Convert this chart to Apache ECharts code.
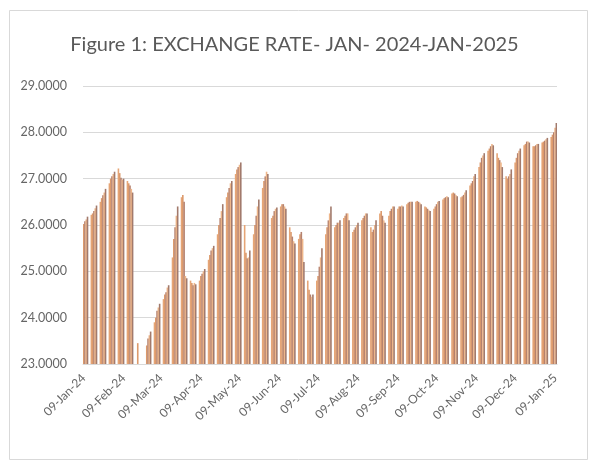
<!DOCTYPE html>
<html>
<head>
<meta charset="utf-8">
<script src="https://cdn.jsdelivr.net/npm/echarts@6/dist/echarts.min.js"></script>
<style>html,body{margin:0;padding:0;background:#fff}#c{width:589px;height:462px}</style>
</head>
<body>
<div id="c"></div>
<script>
const titleText = 'Figure 1: EXCHANGE RATE- JAN- 2024-JAN-2025';
const startDate = [2024, 0, 9];
const dayCount = 368;
const yTicks = [23, 24, 25, 26, 27, 28, 29];
const monthNames = ['Jan','Feb','Mar','Apr','May','Jun','Jul','Aug','Sep','Oct','Nov','Dec'];

// weekday exchange rates, one row per week (Mon-Fri); first row starts Tue 09-Jan-24
const rates = [
  [26.02, 26.08, 26.12, 26.18],
  [26.22, 26.25, 26.30, 26.36, 26.42],
  [26.50, 26.58, 26.64, 26.70, 26.78],
  [26.90, 27.00, 27.05, 27.10, 27.15],
  [27.22, 27.12, 27.02, 26.98, 27.00],
  [26.95, 26.90, 26.85, 26.78, 26.70],
  [null, 23.45, null, null, null],
  [null, 23.40, 23.55, 23.62, 23.70],
  [23.90, 24.00, 24.15, 24.22, 24.30],
  [24.40, 24.50, 24.55, 24.65, 24.70],
  [25.30, 25.70, 25.95, 26.20, 26.40],
  [26.60, 26.65, 26.50, 24.90, 24.85],
  [24.80, 24.75, 24.70, 24.75, 24.72],
  [24.80, 24.90, 24.95, 25.00, 25.05],
  [25.25, 25.35, 25.45, 25.50, 25.55],
  [25.80, 26.00, 26.15, 26.30, 26.45],
  [26.60, 26.70, 26.80, 26.90, 26.95],
  [27.10, 27.20, 27.25, 27.30, 27.35],
  [26.00, 25.40, 25.28, 25.30, 25.45],
  [25.80, 26.00, 26.20, 26.40, 26.55],
  [26.80, 26.95, 27.05, 27.15, 27.10],
  [26.15, 26.20, 26.30, 26.35, 26.38],
  [26.40, 26.45, 26.45, 26.40, 26.35],
  [25.95, 25.85, 25.75, 25.65, 25.60],
  [25.70, 25.80, 25.85, 25.70, 25.20],
  [24.80, 24.60, 24.50, 24.45, 24.50],
  [24.80, 24.90, 25.10, 25.30, 25.50],
  [25.80, 25.95, 26.10, 26.25, 26.40],
  [25.95, 26.00, 26.05, 26.05, 26.10],
  [26.15, 26.20, 26.25, 26.25, 26.10],
  [25.85, 25.90, 25.95, 26.00, 26.05],
  [26.10, 26.15, 26.20, 26.25, 26.25],
  [25.95, 25.85, 25.90, 26.00, 26.10],
  [26.25, 26.30, 26.20, 26.10, 26.05],
  [26.20, 26.30, 26.35, 26.40, 26.40],
  [26.35, 26.40, 26.40, 26.42, 26.40],
  [26.45, 26.48, 26.50, 26.50, 26.50],
  [26.50, 26.52, 26.50, 26.48, 26.45],
  [26.40, 26.38, 26.35, 26.32, 26.30],
  [26.35, 26.40, 26.45, 26.50, 26.52],
  [26.55, 26.58, 26.60, 26.62, 26.60],
  [26.68, 26.70, 26.68, 26.65, 26.62],
  [26.60, 26.62, 26.65, 26.70, 26.75],
  [26.85, 26.90, 26.95, 27.05, 27.10],
  [27.25, 27.35, 27.45, 27.50, 27.55],
  [27.60, 27.65, 27.70, 27.75, 27.72],
  [27.55, 27.45, 27.40, 27.35, 27.25],
  [27.05, 27.00, 27.05, 27.10, 27.20],
  [27.35, 27.45, 27.55, 27.60, 27.65],
  [27.72, 27.75, 27.80, 27.80, 27.78],
  [27.70, 27.70, 27.72, 27.75, 27.75],
  [27.78, 27.80, 27.82, 27.85, 27.88],
  [27.90, 27.95, 28.00, 28.10, 28.20]
];

const palette = ['#dc9a6c', '#b5826f', '#eeb68a', '#a27a6c', '#d38f68', '#c08f7e', '#e6a576'];

// build daily category axis (weekends left empty)
const flat = rates.flat();
const categories = [];
const values = [];
let k = 0;
for (let i = 0; i < dayCount; i++) {
  const d = new Date(Date.UTC(startDate[0], startDate[1], startDate[2] + i));
  const dd = String(d.getUTCDate()).padStart(2, '0');
  categories.push(dd + '-' + monthNames[d.getUTCMonth()] + '-' + String(d.getUTCFullYear()).slice(2));
  const dow = d.getUTCDay();
  if (dow === 0 || dow === 6) values.push(null);
  else values.push(flat[k++]);
}

const chart = echarts.init(document.getElementById('c'), null, {renderer: 'canvas'});
chart.setOption({
  animation: false,
  backgroundColor: '#ffffff',
  graphic: [{
    type: 'rect', left: 7, top: 8,
    shape: {width: 578, height: 449},
    style: {fill: 'none', stroke: '#d9d9d9', lineWidth: 1},
    silent: true, z: -1
  }],
  title: {
    text: titleText,
    left: 'center', top: 30,
    textStyle: {fontFamily: 'Lato', fontSize: 20, fontWeight: 'normal', color: '#595959'}
  },
  grid: {left: 83, right: 32, top: 86, bottom: 98, containLabel: false},
  xAxis: {
    type: 'category',
    data: categories,
    boundaryGap: true,
    axisLine: {show: true, lineStyle: {color: '#d9d9d9'}},
    axisTick: {show: false},
    axisLabel: {
      rotate: 45,
      interval: (i, v) => v.startsWith('09-'),
      color: '#666666', fontFamily: 'Lato', fontSize: 12, margin: 12
    }
  },
  yAxis: {
    type: 'value',
    min: yTicks[0], max: yTicks[yTicks.length - 1], interval: 1,
    axisLine: {show: false}, axisTick: {show: false},
    splitLine: {lineStyle: {color: '#d9d9d9'}},
    axisLabel: {
      formatter: v => v.toFixed(4),
      color: '#666666', fontFamily: 'Lato', fontSize: 12.5, margin: 16
    }
  },
  series: [{
    type: 'bar',
    data: values,
    barCategoryGap: '0%',
    barGap: '0%',
    barWidth: 1.6,
    itemStyle: {color: p => palette[p.dataIndex % palette.length]}
  }]
});
</script>
</body>
</html>
